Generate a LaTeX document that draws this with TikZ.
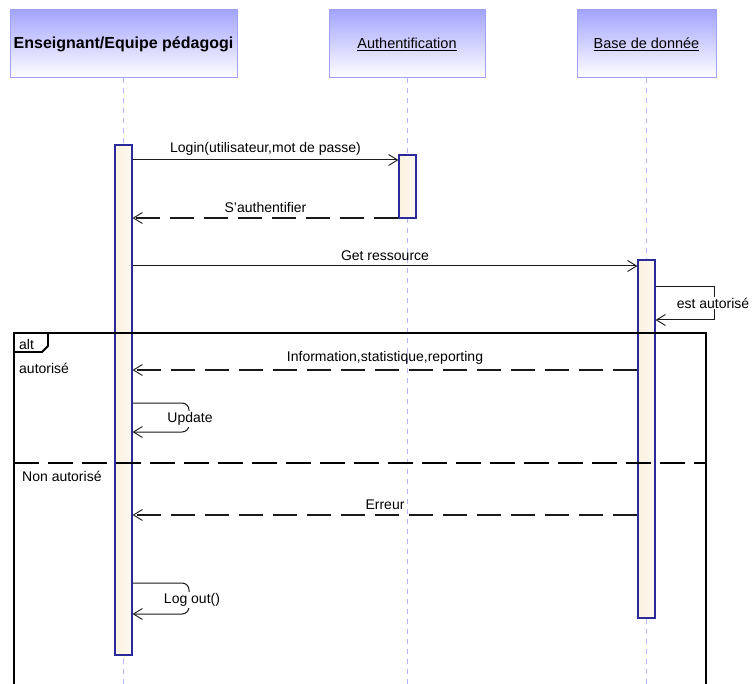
\documentclass[tikz,border=0pt]{standalone}
\usepackage{fontspec}
\setmainfont{Liberation Sans}
\usetikzlibrary{arrows.meta}
\definecolor{headtop}{HTML}{A4A4FF}
\definecolor{headline}{HTML}{A0A0F0}
\definecolor{lifeblue}{HTML}{B4B4FF}
\definecolor{barline}{HTML}{2A2A9A}
\definecolor{barfill}{HTML}{FBF1DE}
\definecolor{msgline}{HTML}{1A1A1A}
\begin{document}
\begin{tikzpicture}[x=1pt,y=-1pt,
  head/.style={draw=headline, line width=1pt, top color=headtop, bottom color=white,
    inner sep=0pt, minimum height=68pt},
  headtxt/.style={font=\fontsize{14.5}{16}\selectfont},
  lifeline/.style={draw=lifeblue, line width=1pt, dash pattern=on 5pt off 5pt},
  actbar/.style={draw=barline, line width=1.2pt, left color=barfill, right color=white!60!barfill,
    minimum width=17pt, inner sep=0pt},
  msg/.style={draw=msgline, line width=1pt,
    -{Straight Barb[length=9pt, width=11pt, line width=0.9pt]}},
  reply/.style={msg, line width=1.4pt, dash pattern=on 24pt off 10pt},
  lbl/.style={font=\fontsize{14}{16}\selectfont, inner sep=1pt},
  selflbl/.style={lbl, fill=white},
  frameline/.style={draw=black, line width=2.4pt},
  guard/.style={font=\fontsize{14}{16}\selectfont, anchor=west, inner sep=0pt}]
\clip (0,0) rectangle (752,684);
\fill[white] (0,0) rectangle (752,684);

% participants
\node[head, minimum width=227pt] (h1) at (123.5,44)
  {\fontsize{16}{18}\selectfont\bfseries Enseignant/Equipe pédagogi};
\node[head, headtxt, minimum width=156pt] (h2) at (407,44) {\underline{Authentification}};
\node[head, headtxt, minimum width=139pt] (h3) at (646.5,44) {\underline{Base de donnée}};

% lifelines
\coordinate (e1) at (123.5,690);
\coordinate (e2) at (407,690);
\coordinate (e3) at (646.5,690);
\draw[lifeline] (h1.south) -- (e1);
\draw[lifeline] (h2.south) -- (e2);
\draw[lifeline] (h3.south) -- (e3);

% activation bars
\node[actbar, minimum height=510pt] (a1) at (123.5,400) {};
\node[actbar, minimum height=63pt] (a2) at (407.5,186.5) {};
\node[actbar, minimum height=358pt] (a3) at (646.5,439) {};

% alt fragment
\draw[frameline] (14,700) -- (14,333) -- (706,333) -- (706,700);
\draw[line width=1.8pt] (14,352) -- (42,352) -- (48,346) -- (48,333);
\node[guard] (altname) at (19,344) {alt};
\node[guard] (g1) at (19,368) {autorisé};
\node[guard] (g2) at (22,476) {Non autorisé};
\draw[line width=1.6pt, dash pattern=on 25pt off 9pt] (14,463) -- (706,463);

% messages
\draw[msg] (a1.east |- 0,160) -- node[lbl, above=3pt] (m1) {Login(utilisateur,mot de passe)} (a2.west |- 0,160);
\draw[reply] (a2.west |- 0,218) -- node[lbl, above=4pt] (m2) {S'authentifier} (a1.east |- 0,218);
\draw[msg] (a1.east |- 0,266) -- node[lbl, above=4pt] (m3) {Get ressource} (a3.west |- 0,266);
\draw[msg] (a3.east |- 0,287) -- (714,287) -- (714,320) -- (a3.east |- 0,320);
\node[selflbl] (m4) at (713,303) {est autorisé};
\draw[reply] (a3.west |- 0,370) -- node[lbl, above=4pt] (m5) {Information,statistique,reporting} (a1.east |- 0,370);
\draw[msg, rounded corners=7pt] (a1.east |- 0,403) -- (189,403) -- (189,432) -- (a1.east |- 0,432);
\node[selflbl] (m6) at (190,419) {Update};
\draw[reply] (a3.west |- 0,515) -- node[lbl, above=4pt] (m7) {Erreur} (a1.east |- 0,515);
\draw[msg, rounded corners=7pt] (a1.east |- 0,583) -- (189,583) -- (189,614) -- (a1.east |- 0,614);
\node[selflbl] (m8) at (192,600) {Log out()};
\end{tikzpicture}
\end{document}
